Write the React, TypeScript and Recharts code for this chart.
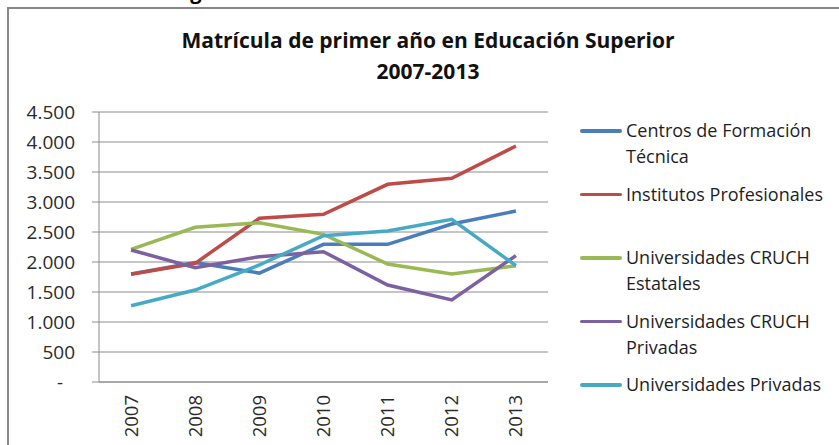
import React from 'react';
import { LineChart, Line, XAxis, YAxis, CartesianGrid } from 'recharts';

const years = ['2007', '2008', '2009', '2010', '2011', '2012', '2013'];
const cft = [1800, 1990, 1815, 2295, 2295, 2633, 2850];
const ip = [1795, 1978, 2728, 2795, 3295, 3395, 3933];
const cruchEstatales = [2211, 2578, 2655, 2461, 1967, 1800, 1939];
const cruchPrivadas = [2200, 1906, 2089, 2172, 1617, 1367, 2106];
const uPrivadas = [1272, 1533, 1950, 2439, 2517, 2711, 1939];
const yTicks = [0, 500, 1000, 1500, 2000, 2500, 3000, 3500, 4000, 4500];

const series = [
    { key: 'cft', lines: ['Centros de Formación', 'Técnica'], color: '#4A7EBB', values: cft },
    { key: 'ip', lines: ['Institutos Profesionales'], color: '#BE4B48', values: ip },
    { key: 'est', lines: ['Universidades CRUCH', 'Estatales'], color: '#98B954', values: cruchEstatales },
    { key: 'priv', lines: ['Universidades CRUCH', 'Privadas'], color: '#7D60A0', values: cruchPrivadas },
    { key: 'up', lines: ['Universidades Privadas'], color: '#46AAC5', values: uPrivadas },
];

const data = years.map((year, i) => {
    const row: Record<string, string | number> = { year };
    series.forEach(s => { row[s.key] = s.values[i]; });
    return row;
});

const FONT = '"Open Sans", sans-serif';
const GRID = '#8c8c8c';

const fmt = (v: number) => v.toLocaleString('de-DE');

const YTick = (props: any) => {
    const { x, y, payload } = props;
    const v = payload.value as number;
    return (
        <text x={v === 0 ? x - 12 : x} y={y} dy="0.35em" textAnchor="end"
            fontFamily={FONT} fontSize={19} fill="#2a2a2a">
            {v === 0 ? '-' : fmt(v)}
        </text>
    );
};

const XTick = (props: any) => {
    const { x, y, payload } = props;
    return (
        <text x={x} y={y} dy="0.35em" textAnchor="end" transform={`rotate(-90, ${x}, ${y})`}
            fontFamily={FONT} fontSize={18.5} fill="#2a2a2a">
            {payload.value}
        </text>
    );
};

const App = () => {
    return (
        <div style={{ position: 'absolute', left: 0, top: 0, width: 839, height: 445, overflow: 'hidden', background: '#fff' }}>
            <div style={{ position: 'absolute', left: 10, top: -22, fontFamily: FONT, fontWeight: 700, fontSize: 20, whiteSpace: 'nowrap' }}>
                Matrícula en la Región
            </div>
            <div style={{ position: 'absolute', left: 7, top: 7, width: 900, height: 500, borderLeft: '2px solid #868686', borderTop: '2px solid #868686' }} />
            <div style={{ position: 'absolute', left: 78, width: 700, top: 25, textAlign: 'center', fontFamily: FONT, fontWeight: 700, fontSize: 21, lineHeight: '31px', color: '#111' }}>
                <div>Matrícula de primer año en Educación Superior</div>
                <div>2007-2013</div>
            </div>

            <div style={{ position: 'absolute', left: 0, top: 0 }}>
                <LineChart width={839} height={445} data={data}
                    margin={{ top: 112, right: 291, bottom: 3, left: 39 }}>
                    <CartesianGrid vertical={false} stroke={GRID} strokeWidth={1} xAxisId={0} />
                    <XAxis xAxisId={0} type="number" domain={[0, 7]} ticks={[0, 1, 2, 3, 4, 5, 6, 7]}
                        tick={false} tickSize={7} stroke={GRID} axisLine={{ stroke: GRID }} height={8} allowDataOverflow />
                    <XAxis xAxisId="cat" dataKey="year" scale="band" interval={0} tickLine={false} axisLine={false}
                        tickSize={0} tickMargin={5} height={52} tick={<XTick />} />
                    <YAxis width={60} domain={[0, 4500]} ticks={yTicks} tickSize={7} tickMargin={17}
                        stroke={GRID} tick={<YTick />} interval={0} />
                    {series.map(s => (
                        <Line key={s.key} xAxisId="cat" dataKey={s.key} stroke={s.color} strokeWidth={3.5}
                            dot={false} isAnimationActive={false} type="linear" />
                    ))}
                </LineChart>
            </div>

            <div style={{ position: 'absolute', left: 580, top: 117, fontFamily: FONT, fontSize: 18, color: '#1e1e1e' }}>
                {series.map((s, i) => (
                    <div key={s.key} style={{ position: 'absolute', top: i * 63.5, left: 0, width: 259 }}>
                        <div style={{ position: 'absolute', left: 0, top: 12, width: 42, height: 3.5, background: s.color, borderRadius: 2 }} />
                        <div style={{ position: 'absolute', left: 46, top: 0, lineHeight: '26px', whiteSpace: 'nowrap' }}>
                            {s.lines.map(l => <div key={l}>{l}</div>)}
                        </div>
                    </div>
                ))}
            </div>
        </div>
    );
};

export default App;
